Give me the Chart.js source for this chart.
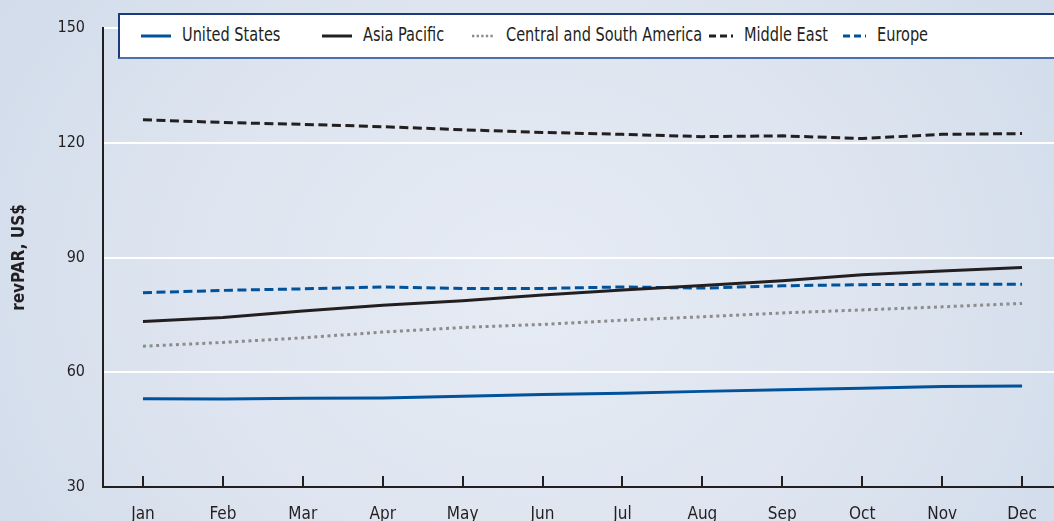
<!DOCTYPE html>
<html><head><meta charset="utf-8">
<script src="https://cdn.jsdelivr.net/npm/chart.js@4"></script>
<style>
html,body{margin:0;padding:0;width:1054px;height:521px;overflow:hidden;}
body{position:relative;background:radial-gradient(ellipse 70% 120% at 50% 55%, #e6ebf4 0%, #dee5f0 45%, #cdd8e8 100%);
 font-family:'DejaVu Sans Condensed','Liberation Sans Narrow','Arial Narrow',sans-serif;}
#wrap{position:absolute;left:0;top:0;width:1062px;height:521px;}
#legend{position:absolute;left:118px;top:13px;width:980px;height:42px;background:#fff;
 border-top:2px solid #1b3b7c;border-left:2px solid #1b3b7c;border-bottom:2px solid #4d70ad;}
.item{position:absolute;top:0;height:42px;display:flex;align-items:center;font-size:19px;color:#231f20;white-space:nowrap;}
.item svg{margin-right:11px;display:block;}
.item span{display:inline-block;transform:scaleX(0.85);transform-origin:left center;position:relative;top:-2px;}
</style></head>
<body>
<div id="wrap"><canvas id="c" width="1062" height="521"></canvas></div>
<div id="legend"></div>
<script>
const months = ['Jan','Feb','Mar','Apr','May','Jun','Jul','Aug','Sep','Oct','Nov','Dec'];
const yTicks = [30, 60, 90, 120, 150];
const seriesNames = ['United States','Asia Pacific','Central and South America','Middle East','Europe'];
const unitedStates = [53.1,53.0,53.2,53.3,53.7,54.2,54.5,55.0,55.4,55.8,56.3,56.4];
const asiaPacific = [73.3,74.3,76.0,77.5,78.7,80.2,81.5,82.7,83.9,85.5,86.5,87.4];
const centralSouthAmerica = [66.8,67.8,69.0,70.5,71.7,72.5,73.6,74.5,75.5,76.3,77.1,78.0];
const middleEast = [126.0,125.3,124.8,124.2,123.4,122.7,122.2,121.6,121.8,121.1,122.2,122.4];
const europe = [80.8,81.4,81.8,82.3,81.9,81.9,82.3,82.0,82.6,82.9,83.0,83.0];

const seriesValues = [unitedStates, asiaPacific, centralSouthAmerica, middleEast, europe];
const styles = [
  {color:'#00529b', dash:[], lDash:'', lw:30, lWidth:3},
  {color:'#231f20', dash:[], lDash:'', lw:30, lWidth:3},
  {color:'#8c8c8c', dash:[3,3.6], lDash:'2.4 2.2', lw:23, lWidth:2.5},
  {color:'#231f20', dash:[9,4.5], lDash:'7 4', lw:24, lWidth:3},
  {color:'#00529b', dash:[9,4.5], lDash:'7 4', lw:23, lWidth:3}
];
const legendLefts = [21, 202, 352, 589, 723];

const FONT = "'DejaVu Sans Condensed','Liberation Sans Narrow','Arial Narrow',sans-serif";

const innerTicks = {
  id:'innerTicks',
  afterDraw(chart){
    const {ctx, chartArea} = chart; const x = chart.scales.x;
    ctx.save(); ctx.strokeStyle='#231f20'; ctx.lineWidth=2;
    months.forEach((m,i)=>{
      const px = Math.round(x.getPixelForValue(i));
      ctx.beginPath(); ctx.moveTo(px, chartArea.bottom); ctx.lineTo(px, chartArea.bottom-11); ctx.stroke();
    });
    ctx.restore();
  }
};

new Chart(document.getElementById('c'), {
  type:'line',
  data:{
    labels: months,
    datasets: seriesNames.map((n,i)=>({
      label:n, data:seriesValues[i], borderColor:styles[i].color, backgroundColor:styles[i].color,
      borderWidth:3, borderDash:styles[i].dash, borderCapStyle:'butt', pointRadius:0, tension:0, fill:false
    }))
  },
  options:{
    responsive:false, animation:false, devicePixelRatio:1,
    layout:{padding:{top:28,left:0,right:0,bottom:0}},
    plugins:{legend:{display:false}, tooltip:{enabled:false}},
    scales:{
      x:{
        type:'category', offset:true,
        grid:{display:false, drawTicks:false},
        border:{display:true, color:'#231f20', width:2},
        ticks:{font:{family:FONT,size:17}, color:'#231f20', padding:17, maxRotation:0, autoSkip:false},
        afterFit(s){ s.height = 34; }
      },
      y:{
        min:30, max:150,
        afterBuildTicks(s){ s.ticks = yTicks.map(v=>({value:v})); },
        grid:{color:'#ffffff', lineWidth:2, drawTicks:false},
        border:{display:true, color:'#231f20', width:2},
        ticks:{font:{family:FONT,size:16}, color:'#231f20', padding:18},
        title:{display:true, text:'revPAR, US$', font:{family:FONT,size:17,weight:'bold'}, color:'#231f20', padding:{top:9,bottom:0}},
        afterFit(s){ s.width = 103; }
      }
    }
  },
  plugins:[innerTicks]
});

const legend = document.getElementById('legend');
seriesNames.forEach((n,i)=>{
  const st = styles[i];
  const d = document.createElement('div');
  d.className='item'; d.style.left = legendLefts[i]+'px';
  d.innerHTML = `<svg width="${st.lw}" height="6"><line x1="0" y1="3" x2="${st.lw}" y2="3" stroke="${st.color}" stroke-width="${st.lWidth}" ${st.lDash?`stroke-dasharray="${st.lDash}"`:''}/></svg><span>${n}</span>`;
  legend.appendChild(d);
});
</script>
</body></html>
